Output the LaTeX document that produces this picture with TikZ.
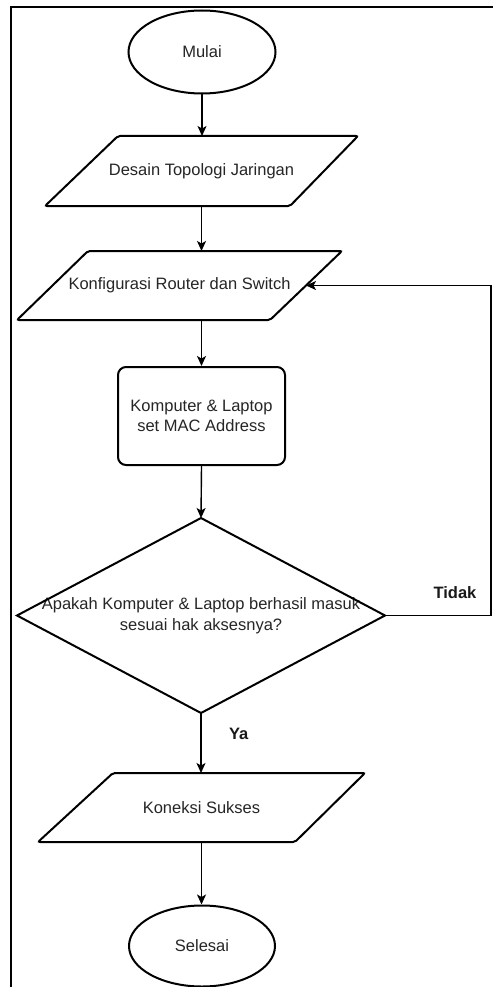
\documentclass[tikz,border=0pt]{standalone}
\usepackage{fontspec}
\setmainfont{Liberation Sans}
\usetikzlibrary{shapes.geometric,arrows.meta}
\begin{document}
\begin{tikzpicture}[x=1pt,y=-1pt,
  shapeline/.style={line width=2pt},
  conn/.style={line width=1.4pt,-{Stealth[length=10pt,width=9pt,inset=2.5pt]}},
  lbl/.style={font=\fontsize{16.5}{20.5}\selectfont, text=black!85, align=center},
  lblb/.style={font=\bfseries\fontsize{16.5}{20}\selectfont, text=black!90},
  box/.style={inner sep=0pt, outer sep=0pt},
]
\useasboundingbox (0,0) rectangle (493,987);
\fill[white] (0,0) rectangle (493,987);
% frame
\draw[line width=2pt] (11,987) -- (11,7) -- (493,7);

% start
\node[ellipse, draw, shapeline, minimum width=147pt, minimum height=83pt, inner sep=0pt, lbl] (start) at (202,52) {Mulai};

% p1
\node[box, minimum width=313pt, minimum height=70pt, lbl] (p1) at (201.5,171) {Desain Topologi Jaringan};
\draw[shapeline, rounded corners=2pt] (p1.south west) -- ++(245,0) -- (p1.north east) -- ++(-240,0) -- cycle;

% p2
\node[box, minimum width=325pt, minimum height=69pt, lbl] (p2) at (179.5,285.5) {Konfigurasi Router dan Switch};
\draw[shapeline, rounded corners=2pt] (p2.south west) -- ++(253,0) -- (p2.north east) -- ++(-254,0) -- cycle;
\coordinate (p2in) at (306,285.5);

% rounded rect
\node[draw, shapeline, rounded corners=8pt, minimum width=167pt, minimum height=98pt, inner sep=0pt, lbl] (r) at (201.5,416) {Komputer \& Laptop\\set MAC Address};

% decision
\node[box, minimum width=368pt, minimum height=195pt, lbl] (dec) at (201,615.5) {Apakah Komputer \& Laptop berhasil masuk\\sesuai hak aksesnya?};
\draw[shapeline] (dec.north) -- (dec.east) -- (dec.south) -- (dec.west) -- cycle;

% p3
\node[box, minimum width=327pt, minimum height=69pt, lbl] (p3) at (201.5,807.5) {Koneksi Sukses};
\draw[shapeline, rounded corners=2pt] (p3.south west) -- ++(257,0) -- (p3.north east) -- ++(-252,0) -- cycle;

% end
\node[ellipse, draw, shapeline, minimum width=146pt, minimum height=81pt, inner sep=0pt, lbl] (end) at (202,946) {Selesai};

% connectors
\draw[conn] (start.south) -- (start.south |- p1.north);
\draw[conn] (p1.south) -- (p1.south |- p2.north);
\draw[conn] (r.north |- p2.south) -- (r.north);
\draw[conn] (r.south) -- (dec.north);
\draw[conn] (dec.south) -- node[pos=0.35, anchor=west, xshift=24pt, lblb] {Ya} (dec.south |- p3.north);
\draw[conn] (p3.south) -- (p3.south |- end.north);
\draw[conn] (dec.east) -- node[pos=0.66, anchor=south, yshift=13pt, lblb] {Tidak} ++(106,0) |- (p2in);
\end{tikzpicture}
\end{document}
